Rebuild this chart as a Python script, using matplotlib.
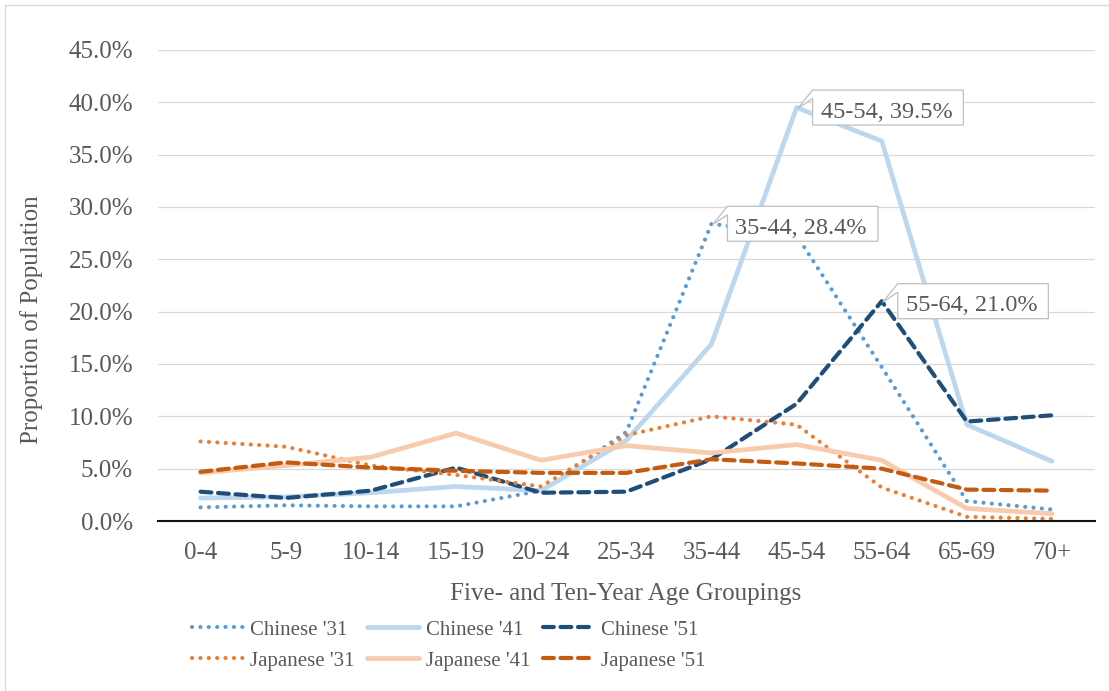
import numpy as np
import matplotlib
matplotlib.use("Agg")
import matplotlib.pyplot as plt
import matplotlib.transforms as mtransforms
from matplotlib.ticker import PercentFormatter
from matplotlib.patches import Polygon
from matplotlib.lines import Line2D

# Age groups on the x axis
groups = ["0-4", "5-9", "10-14", "15-19", "20-24", "25-34",
          "35-44", "45-54", "55-64", "65-69", "70+"]

# Share of each population in every age group (fractions)
chinese_31 = [0.013, 0.015, 0.014, 0.014, 0.029, 0.085, 0.284, 0.273, 0.147, 0.019, 0.011]
chinese_41 = [0.022, 0.023, 0.027, 0.033, 0.029, 0.077, 0.169, 0.395, 0.363, 0.092, 0.057]
chinese_51 = [0.028, 0.022, 0.029, 0.051, 0.027, 0.028, 0.059, 0.112, 0.210, 0.095, 0.101]
japanese_31 = [0.076, 0.071, 0.053, 0.044, 0.033, 0.082, 0.100, 0.092, 0.032, 0.004, 0.002]
japanese_41 = [0.046, 0.053, 0.061, 0.084, 0.058, 0.072, 0.065, 0.073, 0.058, 0.012, 0.007]
japanese_51 = [0.047, 0.056, 0.051, 0.048, 0.046, 0.046, 0.059, 0.055, 0.050, 0.030, 0.029]

names = ["Chinese '31", "Chinese '41", "Chinese '51",
         "Japanese '31", "Japanese '41", "Japanese '51"]

# Line styles
DOT = (0, (0.01, 2.0))
DASH = (0, (2.6, 1.6))
styles = [
    dict(color="#5B9BD5", lw=3.0, ls=DOT),
    dict(color="#BDD7EE", lw=3.4, ls="-"),
    dict(color="#1F4E79", lw=3.0, ls=DASH),
    dict(color="#ED7D31", lw=3.0, ls=DOT),
    dict(color="#F8CBAD", lw=3.4, ls="-"),
    dict(color="#C55A11", lw=3.0, ls=DASH),
]
series = [chinese_31, chinese_41, chinese_51, japanese_31, japanese_41, japanese_51]

W, H, DPI = 1109, 691, 100
TXT = "#595959"
plt.rcParams["font.family"] = ["Liberation Serif", "DejaVu Serif"]

fig = plt.figure(figsize=(W / DPI, H / DPI), dpi=DPI)
ax = fig.add_axes([158 / W, 1 - 521 / H, (1094.6 - 158) / W, (521 - 50) / H])

x = np.arange(len(groups))
handles = []
for vals, st, name in zip(series, styles, names):
    h, = ax.plot(x, vals, color=st["color"], lw=st["lw"], linestyle=st["ls"],
                 dash_capstyle="round", solid_capstyle="round",
                 solid_joinstyle="round", label=name, zorder=3)
    handles.append(h)

ax.set_xlim(-0.5, len(groups) - 0.5)
ax.set_ylim(0, 0.45)
ax.set_yticks(np.arange(0, 0.451, 0.05))
ax.yaxis.set_major_formatter(PercentFormatter(1.0, decimals=1))
ax.set_xticks(x)
ax.set_xticklabels(groups)
ax.tick_params(axis="both", length=0, labelsize=18, colors=TXT)
ax.tick_params(axis="y", pad=18)
ax.tick_params(axis="x", pad=15)
ax.grid(axis="y", color="#D9D9D9", lw=0.9, zorder=0)
ax.set_axisbelow(True)
for s in ["top", "right", "left"]:
    ax.spines[s].set_visible(False)
ax.spines["bottom"].set_color("#141414")
ax.spines["bottom"].set_linewidth(1.5)
ax.spines["bottom"].set_zorder(4)

# Axis titles
fig.text(32 / W, 1 - 320 / H, "Proportion of Population", rotation=90,
         ha="center", va="center", fontsize=18, color=TXT)
fig.text(626 / W, 1 - 600 / H, "Five- and Ten-Year Age Groupings",
         ha="center", va="baseline", fontsize=18, color=TXT)

# Legend, filled row by row
order = [0, 3, 1, 4, 2, 5]
fig.legend([handles[i] for i in order], [names[i] for i in order],
           loc="upper left", bbox_to_anchor=(192 / W, 1 - 620 / H),
           ncol=3, frameon=False, fontsize=15, labelcolor=TXT,
           handlelength=2.5, handletextpad=0.3, columnspacing=0.6,
           labelspacing=0.55, borderpad=0, borderaxespad=0)

# Callouts on the peak of each Chinese series
fig.canvas.draw()
for vals in [chinese_31, chinese_41, chinese_51]:
    i = int(np.argmax(vals))
    v = vals[i]
    tr = mtransforms.IdentityTransform() + mtransforms.ScaledTranslation(i, v, ax.transData)
    t = ax.text(24, -10, f"{groups[i]}, {v * 100:.1f}%", transform=tr,
                ha="left", va="baseline", fontsize=17.5, color=TXT, zorder=7)
    w = t.get_window_extent(fig.canvas.get_renderer()).width + 19
    box = [(1, -1), (16, 17.5), (16 + w, 17.5), (16 + w, -17.5), (16, -17.5), (16, 9)]
    ax.add_patch(Polygon(box, closed=True, transform=tr, fc="white",
                         ec="#BFBFBF", lw=0.9, zorder=6))

# Chart frame
fig.add_artist(Line2D([5 / W, 5 / W], [0, 1 - 5 / H], transform=fig.transFigure,
                      color="#D9D9D9", lw=1))
fig.add_artist(Line2D([5 / W, 1], [1 - 5 / H, 1 - 5 / H], transform=fig.transFigure,
                      color="#D9D9D9", lw=1))

fig.savefig("out.png", dpi=DPI, facecolor="white")
